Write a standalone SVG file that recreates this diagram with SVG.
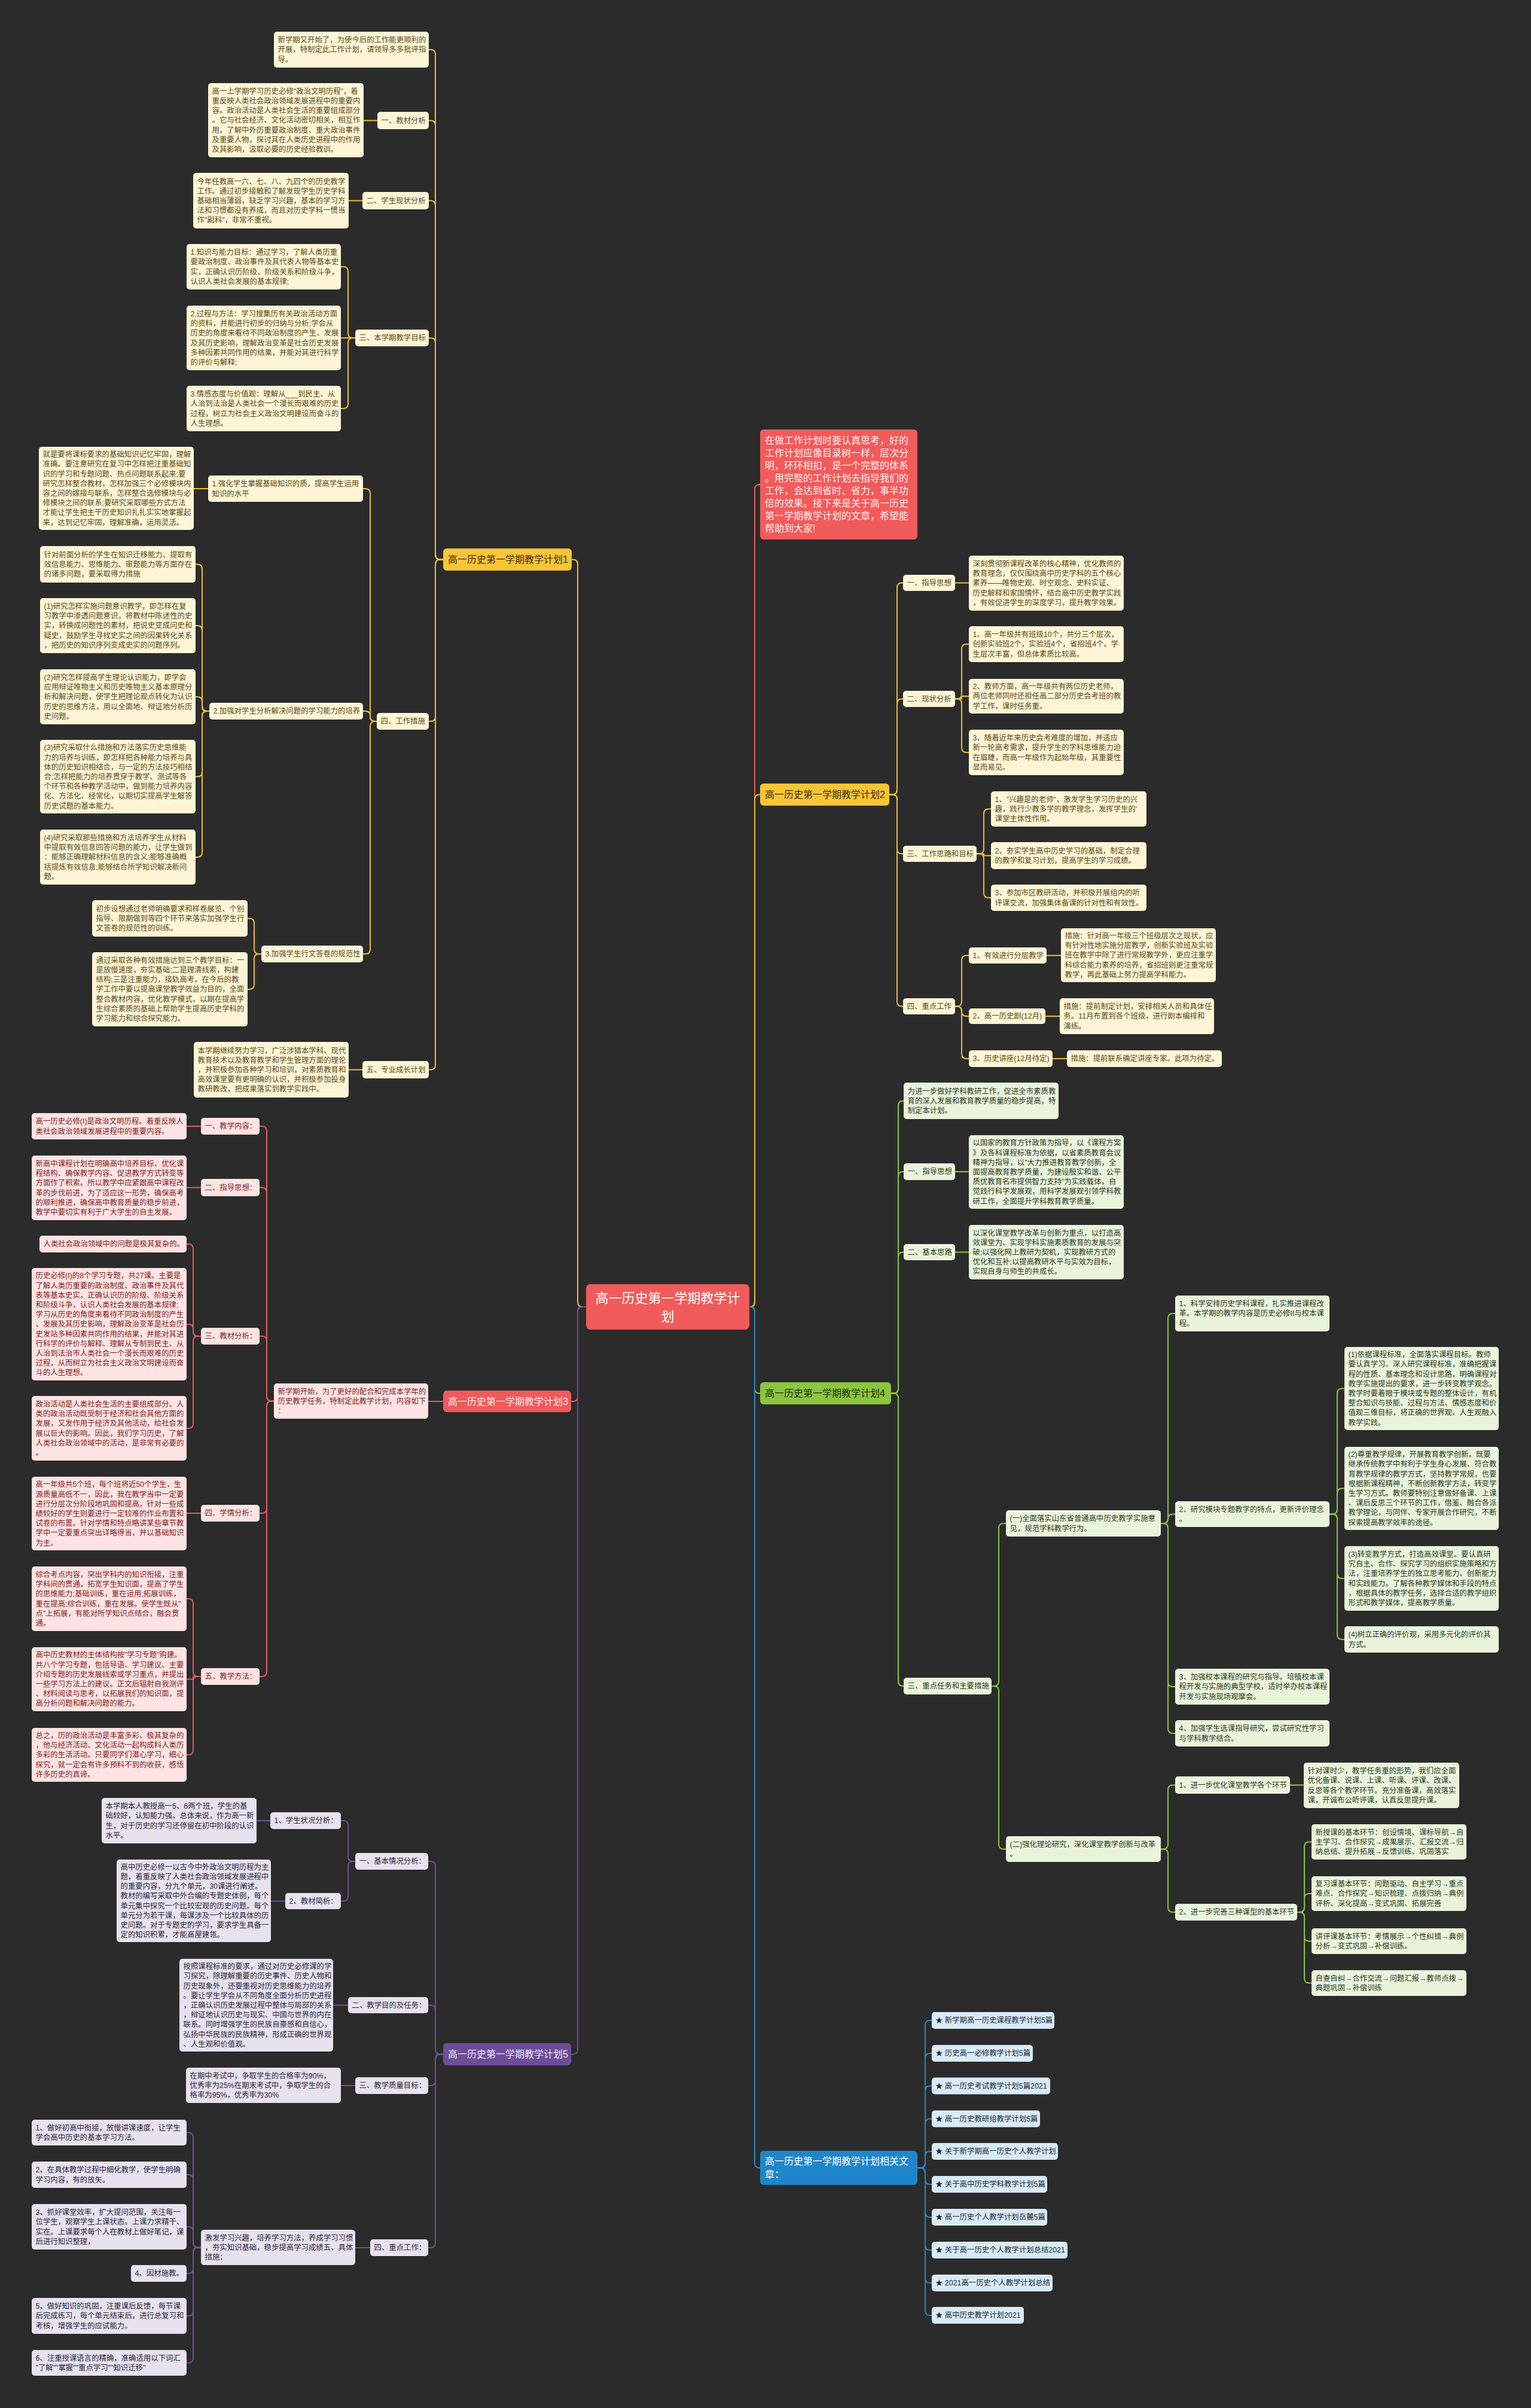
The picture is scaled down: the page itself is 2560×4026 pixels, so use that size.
<svg xmlns="http://www.w3.org/2000/svg" width="2560" height="4026" viewBox="0 0 2560 4026">
<style>
text{font-family:"Liberation Sans","Noto Sans CJK SC",sans-serif;}
.s{font-size:12.4px}
.m{font-size:16px}
.r{font-size:22px}
.ly rect{fill:#fdf5d6}.ly text{fill:#5a4916}
.lr rect{fill:#fde3e3}.lr text{fill:#7d1f1f}
.lp rect{fill:#e6e2ee}.lp text{fill:#2b2538}
.lg rect{fill:#e9f4db}.lg text{fill:#2b371f}
.lb rect{fill:#d8eaf6}.lb text{fill:#1b2834}
#connectors path{fill:none;stroke-width:2}
.cy{stroke:#efbf37}.cr{stroke:#e45a5a}.cp{stroke:#6b5296}.cg{stroke:#8cc540}.cb{stroke:#2a87c6}
</style>
<rect x="0" y="0" width="2560" height="4026" fill="#2b2b2b"/>

<g id="connectors">
<!-- yellow left -->
<path class="cy" d="M980 2185 H974 Q966 2185 966 2177 V943.5 Q966 935.5 958 935.5 H956"/>
<path class="cy" d="M741 935.5 H736 Q728 935.5 728 927.5 V91 Q728 83 720 83 H717"/>
<path class="cy" d="M741 935.5 H736 Q728 935.5 728 927.5 V209.5 Q728 201.5 720 201.5 H717"/>
<path class="cy" d="M741 935.5 H736 Q728 935.5 728 927.5 V343.5 Q728 335.5 720 335.5 H717"/>
<path class="cy" d="M741 935.5 H736 Q728 935.5 728 927.5 V573 Q728 565 720 565 H717"/>
<path class="cy" d="M741 935.5 H736 Q728 935.5 728 943.5 V1198 Q728 1206 720 1206 H717"/>
<path class="cy" d="M741 935.5 H736 Q728 935.5 728 943.5 V1780.5 Q728 1788.5 720 1788.5 H717"/>
<path class="cy" d="M631 201.5 H608"/>
<path class="cy" d="M606 335.5 H583"/>
<path class="cy" d="M594 565 H590 Q582 565 582 557 V454 Q582 446 574 446 H570"/>
<path class="cy" d="M594 565 H570"/>
<path class="cy" d="M594 565 H590 Q582 565 582 573 V675 Q582 683 574 683 H570"/>
<path class="cy" d="M630 1206 H627 Q619 1206 619 1198 V825 Q619 817 611 817 H607"/>
<path class="cy" d="M630 1206 H627 Q619 1206 619 1198 V1197 Q619 1189 611 1189 H607"/>
<path class="cy" d="M630 1206 H627 Q619 1206 619 1214 V1587 Q619 1595 611 1595 H607"/>
<path class="cy" d="M348 817 H324"/>
<path class="cy" d="M350 1189 H346 Q338 1189 338 1181 V951.5 Q338 943.5 330 943.5 H327"/>
<path class="cy" d="M350 1189 H346 Q338 1189 338 1181 V1054 Q338 1046 330 1046 H327"/>
<path class="cy" d="M350 1189 H346 Q338 1189 338 1181 V1173 Q338 1165 330 1165 H327"/>
<path class="cy" d="M350 1189 H346 Q338 1189 338 1197 V1290.5 Q338 1298.5 330 1298.5 H327"/>
<path class="cy" d="M350 1189 H346 Q338 1189 338 1197 V1425 Q338 1433 330 1433 H327"/>
<path class="cy" d="M437 1595 H433 Q425 1595 425 1587 V1543.5 Q425 1535.5 417 1535.5 H414"/>
<path class="cy" d="M437 1595 H433 Q425 1595 425 1603 V1646 Q425 1654 417 1654 H414"/>
<path class="cy" d="M606 1788.5 H583"/>
<!-- red -->
<path class="cr" d="M1253 2185 H1254 Q1262 2185 1262 2177 V818 Q1262 810 1270 810 H1271"/>
<path class="cr" d="M980 2185 H974 Q966 2185 966 2193 V2335 Q966 2343 958 2343 H955"/>
<path class="cr" d="M741 2343 H716"/>
<path class="cr" d="M458 2342.5 H454 Q446 2342.5 446 2334.5 V1891 Q446 1883 438 1883 H434"/>
<path class="cr" d="M458 2342.5 H454 Q446 2342.5 446 2334.5 V1993.5 Q446 1985.5 438 1985.5 H434"/>
<path class="cr" d="M458 2342.5 H454 Q446 2342.5 446 2334.5 V2242 Q446 2234 438 2234 H434"/>
<path class="cr" d="M458 2342.5 H454 Q446 2342.5 446 2350.5 V2522 Q446 2530 438 2530 H434"/>
<path class="cr" d="M458 2342.5 H454 Q446 2342.5 446 2350.5 V2795 Q446 2803 438 2803 H434"/>
<path class="cr" d="M336 1883 H312"/>
<path class="cr" d="M336 1985.5 H312"/>
<path class="cr" d="M336 2234 H331 Q323 2234 323 2226 V2088 Q323 2080 315 2080 H312"/>
<path class="cr" d="M336 2234 H331 Q323 2234 323 2226 V2222 Q323 2214 315 2214 H312"/>
<path class="cr" d="M336 2234 H331 Q323 2234 323 2242 V2380 Q323 2388 315 2388 H312"/>
<path class="cr" d="M336 2530 H312"/>
<path class="cr" d="M336 2803 H331 Q323 2803 323 2795 V2681 Q323 2673 315 2673 H312"/>
<path class="cr" d="M336 2803 H323 V2807.5 H312"/>
<path class="cr" d="M336 2803 H331 Q323 2803 323 2811 V2926 Q323 2934 315 2934 H312"/>
<!-- purple -->
<path class="cp" d="M980 2185 H974 Q966 2185 966 2193 V3426.5 Q966 3434.5 958 3434.5 H955"/>
<path class="cp" d="M741 3434.5 H736 Q728 3434.5 728 3426.5 V3120 Q728 3112 720 3112 H716"/>
<path class="cp" d="M741 3434.5 H736 Q728 3434.5 728 3426.5 V3360.5 Q728 3352.5 720 3352.5 H716"/>
<path class="cp" d="M741 3434.5 H736 Q728 3434.5 728 3442.5 V3479 Q728 3487 720 3487 H716"/>
<path class="cp" d="M741 3434.5 H736 Q728 3434.5 728 3442.5 V3750 Q728 3758 720 3758 H716"/>
<path class="cp" d="M594 3112 H590 Q582 3112 582 3104 V3052 Q582 3044 574 3044 H570"/>
<path class="cp" d="M594 3112 H590 Q582 3112 582 3120 V3170.5 Q582 3178.5 574 3178.5 H570"/>
<path class="cp" d="M452 3044 H429"/>
<path class="cp" d="M477 3178.5 H453"/>
<path class="cp" d="M582 3352.5 H557"/>
<path class="cp" d="M594 3487 H570"/>
<path class="cp" d="M619 3758 H594"/>
<path class="cp" d="M336 3757.5 H331 Q323 3757.5 323 3749.5 V3573.5 Q323 3565.5 315 3565.5 H312"/>
<path class="cp" d="M336 3757.5 H331 Q323 3757.5 323 3749.5 V3644 Q323 3636 315 3636 H312"/>
<path class="cp" d="M336 3757.5 H331 Q323 3757.5 323 3749.5 V3731 Q323 3723 315 3723 H312"/>
<path class="cp" d="M336 3757.5 H331 Q323 3757.5 323 3765.5 V3793 Q323 3801 315 3801 H312"/>
<path class="cp" d="M336 3757.5 H331 Q323 3757.5 323 3765.5 V3864 Q323 3872 315 3872 H312"/>
<path class="cp" d="M336 3757.5 H331 Q323 3757.5 323 3765.5 V3942.5 Q323 3950.5 315 3950.5 H312"/>
<!-- yellow right -->
<path class="cy" d="M1253 2185 H1254 Q1262 2185 1262 2177 V1336.5 Q1262 1328.5 1270 1328.5 H1271"/>
<path class="cy" d="M1487 1328.5 H1492 Q1500 1328.5 1500 1320.5 V982.5 Q1500 974.5 1508 974.5 H1510"/>
<path class="cy" d="M1487 1328.5 H1492 Q1500 1328.5 1500 1320.5 V1176.5 Q1500 1168.5 1508 1168.5 H1510"/>
<path class="cy" d="M1487 1328.5 H1492 Q1500 1328.5 1500 1336.5 V1419.5 Q1500 1427.5 1508 1427.5 H1510"/>
<path class="cy" d="M1487 1328.5 H1492 Q1500 1328.5 1500 1336.5 V1674.5 Q1500 1682.5 1508 1682.5 H1510"/>
<path class="cy" d="M1597 974.5 H1620"/>
<path class="cy" d="M1597 1168.5 H1600 Q1608 1168.5 1608 1160.5 V1085 Q1608 1077 1616 1077 H1620"/>
<path class="cy" d="M1597 1168.5 H1608 V1164 H1620"/>
<path class="cy" d="M1597 1168.5 H1600 Q1608 1168.5 1608 1176.5 V1250 Q1608 1258 1616 1258 H1620"/>
<path class="cy" d="M1633 1427.5 H1637 Q1645 1427.5 1645 1419.5 V1360.5 Q1645 1352.5 1653 1352.5 H1657"/>
<path class="cy" d="M1633 1427.5 H1645 V1430.5 H1657"/>
<path class="cy" d="M1633 1427.5 H1637 Q1645 1427.5 1645 1435.5 V1493 Q1645 1501 1653 1501 H1657"/>
<path class="cy" d="M1597 1682.5 H1600 Q1608 1682.5 1608 1674.5 V1605.5 Q1608 1597.5 1616 1597.5 H1620"/>
<path class="cy" d="M1597 1682.5 H1600 Q1608 1682.5 1608 1690.5 V1691 Q1608 1699 1616 1699 H1620"/>
<path class="cy" d="M1597 1682.5 H1600 Q1608 1682.5 1608 1690.5 V1762 Q1608 1770 1616 1770 H1620"/>
<path class="cy" d="M1750 1597.5 H1774"/>
<path class="cy" d="M1748 1699 H1772"/>
<path class="cy" d="M1760 1770 H1784"/>
<!-- green -->
<path class="cg" d="M1253 2185 H1254 Q1262 2185 1262 2193 V2321.5 Q1262 2329.5 1270 2329.5 H1271"/>
<path class="cg" d="M1490 2329.5 H1494 Q1502 2329.5 1502 2321.5 V1848.5 Q1502 1840.5 1510 1840.5 H1511"/>
<path class="cg" d="M1490 2329.5 H1494 Q1502 2329.5 1502 2321.5 V1967 Q1502 1959 1510 1959 H1511"/>
<path class="cg" d="M1490 2329.5 H1494 Q1502 2329.5 1502 2321.5 V2101.5 Q1502 2093.5 1510 2093.5 H1511"/>
<path class="cg" d="M1490 2329.5 H1494 Q1502 2329.5 1502 2337.5 V2811 Q1502 2819 1510 2819 H1511"/>
<path class="cg" d="M1597 1959 H1620"/>
<path class="cg" d="M1597 2093.5 H1620"/>
<path class="cg" d="M1658 2819 H1662 Q1670 2819 1670 2811 V2555 Q1670 2547 1678 2547 H1682"/>
<path class="cg" d="M1658 2819 H1662 Q1670 2819 1670 2827 V3083.5 Q1670 3091.5 1678 3091.5 H1682"/>
<path class="cg" d="M1941 2547 H1945 Q1953 2547 1953 2539 V2204 Q1953 2196 1961 2196 H1965"/>
<path class="cg" d="M1941 2547 H1945 Q1953 2547 1953 2539 V2539.5 Q1953 2531.5 1961 2531.5 H1965"/>
<path class="cg" d="M1941 2547 H1945 Q1953 2547 1953 2555 V2812 Q1953 2820 1961 2820 H1965"/>
<path class="cg" d="M1941 2547 H1945 Q1953 2547 1953 2555 V2890 Q1953 2898 1961 2898 H1965"/>
<path class="cg" d="M2223 2531.5 H2228 Q2236 2531.5 2236 2523.5 V2329.5 Q2236 2321.5 2244 2321.5 H2248"/>
<path class="cg" d="M2223 2531.5 H2228 Q2236 2531.5 2236 2523.5 V2496.5 Q2236 2488.5 2244 2488.5 H2248"/>
<path class="cg" d="M2223 2531.5 H2228 Q2236 2531.5 2236 2539.5 V2631 Q2236 2639 2244 2639 H2248"/>
<path class="cg" d="M2223 2531.5 H2228 Q2236 2531.5 2236 2539.5 V2733 Q2236 2741 2244 2741 H2248"/>
<path class="cg" d="M1941 3091.5 H1945 Q1953 3091.5 1953 3083.5 V2992.5 Q1953 2984.5 1961 2984.5 H1965"/>
<path class="cg" d="M1941 3091.5 H1945 Q1953 3091.5 1953 3099.5 V3189 Q1953 3197 1961 3197 H1965"/>
<path class="cg" d="M2157 2984.5 H2180"/>
<path class="cg" d="M2169 3197 H2173 Q2181 3197 2181 3189 V3087.5 Q2181 3079.5 2189 3079.5 H2193"/>
<path class="cg" d="M2169 3197 H2173 Q2181 3197 2181 3189 V3174 Q2181 3166 2189 3166 H2193"/>
<path class="cg" d="M2169 3197 H2173 Q2181 3197 2181 3205 V3237.5 Q2181 3245.5 2189 3245.5 H2193"/>
<path class="cg" d="M2169 3197 H2173 Q2181 3197 2181 3205 V3307.5 Q2181 3315.5 2189 3315.5 H2193"/>
<!-- blue -->
<path class="cb" d="M1253 2185 H1254 Q1262 2185 1262 2193 V3616.5 Q1262 3624.5 1270 3624.5 H1271"/>
<path class="cb" d="M1534 3624.5 H1539 Q1547 3624.5 1547 3616.5 V3386 Q1547 3378 1555 3378 H1558"/>
<path class="cb" d="M1534 3624.5 H1539 Q1547 3624.5 1547 3616.5 V3441 Q1547 3433 1555 3433 H1558"/>
<path class="cb" d="M1534 3624.5 H1539 Q1547 3624.5 1547 3616.5 V3495.5 Q1547 3487.5 1555 3487.5 H1558"/>
<path class="cb" d="M1534 3624.5 H1539 Q1547 3624.5 1547 3616.5 V3550.5 Q1547 3542.5 1555 3542.5 H1558"/>
<path class="cb" d="M1534 3624.5 H1539 Q1547 3624.5 1547 3616.5 V3605 Q1547 3597 1555 3597 H1558"/>
<path class="cb" d="M1534 3624.5 H1539 Q1547 3624.5 1547 3632.5 V3644 Q1547 3652 1555 3652 H1558"/>
<path class="cb" d="M1534 3624.5 H1539 Q1547 3624.5 1547 3632.5 V3699 Q1547 3707 1555 3707 H1558"/>
<path class="cb" d="M1534 3624.5 H1539 Q1547 3624.5 1547 3632.5 V3754 Q1547 3762 1555 3762 H1558"/>
<path class="cb" d="M1534 3624.5 H1539 Q1547 3624.5 1547 3632.5 V3809 Q1547 3817 1555 3817 H1558"/>
<path class="cb" d="M1534 3624.5 H1539 Q1547 3624.5 1547 3632.5 V3863 Q1547 3871 1555 3871 H1558"/>
</g>

<!-- ROOT -->
<g id="root">
<rect x="980" y="2147" width="273" height="76" rx="7" fill="#f15b5b"/>
<text class="r" x="1116.5" y="2177.7" text-anchor="middle" fill="#ffffff"><tspan x="1116.5">高一历史第一学期教学计</tspan><tspan x="1116.5" dy="31">划</tspan></text>
</g>

<!-- BRANCH 1 -->
<g id="b1"><rect x="741" y="917" width="215" height="37" rx="6" fill="#f8c538"/><text class="m" x="749" y="941.1" fill="#3b2f0b">高一历史第一学期教学计划1</text></g>
<g class="ly">
<g id="b1-intro"><rect x="458" y="53" width="259" height="60" rx="5"/><text class="s" x="464.5" y="71.2"><tspan x="464.5">新学期又开始了，为使今后的工作能更顺利的</tspan><tspan x="464.5" dy="16.2">开展，特制定此工作计划，请领导多多批评指</tspan><tspan x="464.5" dy="16.2">导。</tspan></text></g>
<g id="b1-1"><rect x="631" y="187" width="86" height="29" rx="5"/><text class="s" x="637.5" y="205.9">一、教材分析</text></g>
<g id="b1-1a"><rect x="348" y="139" width="260" height="124" rx="5"/><text class="s" x="354.5" y="156.8"><tspan x="354.5">高一上学期学习历史必修"政治文明历程"，着</tspan><tspan x="354.5" dy="16.2">重反映人类社会政治领域发展进程中的重要内</tspan><tspan x="354.5" dy="16.2">容。政治活动是人类社会生活的重要组成部分</tspan><tspan x="354.5" dy="16.2">。它与社会经济、文化活动密切相关，相互作</tspan><tspan x="354.5" dy="16.2">用。了解中外历重要政治制度、重大政治事件</tspan><tspan x="354.5" dy="16.2">及重要人物，探讨其在人类历史进程中的作用</tspan><tspan x="354.5" dy="16.2">及其影响，汲取必要的历史经验教训。</tspan></text></g>
<g id="b1-2"><rect x="606" y="321" width="111" height="29" rx="5"/><text class="s" x="612.5" y="339.9">二、学生现状分析</text></g>
<g id="b1-2a"><rect x="323" y="289" width="260" height="93" rx="5"/><text class="s" x="329.5" y="307.5"><tspan x="329.5">今年任教高一六、七、八、九四个的历史教学</tspan><tspan x="329.5" dy="16.2">工作。通过初步接触和了解发现学生历史学科</tspan><tspan x="329.5" dy="16.2">基础相当薄弱，缺乏学习兴趣，基本的学习方</tspan><tspan x="329.5" dy="16.2">法和习惯都没有养成，而且对历史学科一惯当</tspan><tspan x="329.5" dy="16.2">作"副科"，非常不重视。</tspan></text></g>
<g id="b1-3"><rect x="594" y="551" width="123" height="28" rx="5"/><text class="s" x="600.5" y="569.4">三、本学期教学目标</text></g>
<g id="b1-3a"><rect x="312" y="408" width="258" height="76" rx="5"/><text class="s" x="318.5" y="426.1"><tspan x="318.5">1.知识与能力目标：通过学习，了解人类历重</tspan><tspan x="318.5" dy="16.2">要政治制度、政治事件及其代表人物等基本史</tspan><tspan x="318.5" dy="16.2">实，正确认识历阶级、阶级关系和阶级斗争，</tspan><tspan x="318.5" dy="16.2">认识人类社会发展的基本规律;</tspan></text></g>
<g id="b1-3b"><rect x="312" y="511" width="258" height="108" rx="5"/><text class="s" x="318.5" y="528.9"><tspan x="318.5">2.过程与方法：学习搜集历有关政治活动方面</tspan><tspan x="318.5" dy="16.2">的资料，并能进行初步的归纳与分析;学会从</tspan><tspan x="318.5" dy="16.2">历史的角度来看待不同政治制度的产生、发展</tspan><tspan x="318.5" dy="16.2">及其历史影响，理解政治变革是社会历史发展</tspan><tspan x="318.5" dy="16.2">多种因素共同作用的结果，并能对其进行科学</tspan><tspan x="318.5" dy="16.2">的评价与解释;</tspan></text></g>
<g id="b1-3c"><rect x="312" y="645" width="258" height="76" rx="5"/><text class="s" x="318.5" y="663.1"><tspan x="318.5">3.情感态度与价值观：理解从___到民主、从</tspan><tspan x="318.5" dy="16.2">人治到法治是人类社会一个漫长而艰难的历史</tspan><tspan x="318.5" dy="16.2">过程，树立为社会主义政治文明建设而奋斗的</tspan><tspan x="318.5" dy="16.2">人生理想。</tspan></text></g>
<g id="b1-4"><rect x="630" y="1192" width="87" height="28" rx="5"/><text class="s" x="636.5" y="1210.4">四、工作措施</text></g>
<g id="b1-4-1"><rect x="348" y="795" width="259" height="44" rx="5"/><text class="s" x="354.5" y="813.3"><tspan x="354.5">1.强化学生掌握基础知识的质，提高学生运用</tspan><tspan x="354.5" dy="16.2">知识的水平</tspan></text></g>
<g id="b1-4-1a"><rect x="65" y="747" width="259" height="139" rx="5"/><text class="s" x="71.5" y="764.2"><tspan x="71.5">就是要将课标要求的基础知识记忆牢固，理解</tspan><tspan x="71.5" dy="16.2">准确。要注意研究在复习中怎样把注重基础知</tspan><tspan x="71.5" dy="16.2">识的学习和专题问题、热点问题联系起来;要</tspan><tspan x="71.5" dy="16.2">研究怎样整合教材，怎样加强三个必修模块内</tspan><tspan x="71.5" dy="16.2">容之间的嫁接与联系，怎样整合选修模块与必</tspan><tspan x="71.5" dy="16.2">修模块之间的联系;要研究采取哪些方式方法</tspan><tspan x="71.5" dy="16.2">才能让学生把主干历史知识扎扎实实地掌握起</tspan><tspan x="71.5" dy="16.2">来，达到记忆牢固，理解准确，运用灵活。</tspan></text></g>
<g id="b1-4-2"><rect x="350" y="1175" width="257" height="28" rx="5"/><text class="s" x="356.5" y="1193.4">2.加强对学生分析解决问题的学习能力的培养</text></g>
<g id="b1-4-2a"><rect x="67" y="913" width="260" height="61" rx="5"/><text class="s" x="73.5" y="931.7"><tspan x="73.5">针对前面分析的学生在知识迁移能力、提取有</tspan><tspan x="73.5" dy="16.2">效信息能力、思维能力、审题能力等方面存在</tspan><tspan x="73.5" dy="16.2">的诸多问题，要采取得力措施</tspan></text></g>
<g id="b1-4-2b"><rect x="67" y="1000" width="260" height="92" rx="5"/><text class="s" x="73.5" y="1018"><tspan x="73.5">(1)研究怎样实施问题意识教学，即怎样在复</tspan><tspan x="73.5" dy="16.2">习教学中渗透问题意识，将教材中陈述性的史</tspan><tspan x="73.5" dy="16.2">实，转换成问题性的素材，把说史变成问史和</tspan><tspan x="73.5" dy="16.2">疑史，鼓励学生寻找史实之间的因果转化关系</tspan><tspan x="73.5" dy="16.2">，把历史的知识序列变成史实的问题序列。</tspan></text></g>
<g id="b1-4-2c"><rect x="67" y="1119" width="260" height="92" rx="5"/><text class="s" x="73.5" y="1137"><tspan x="73.5">(2)研究怎样提高学生理论认识能力，即学会</tspan><tspan x="73.5" dy="16.2">应用辩证唯物主义和历史唯物主义基本原理分</tspan><tspan x="73.5" dy="16.2">析和解决问题，使学生把理论观点转化为认识</tspan><tspan x="73.5" dy="16.2">历史的思维方法，用以全面地、辩证地分析历</tspan><tspan x="73.5" dy="16.2">史问题。</tspan></text></g>
<g id="b1-4-2d"><rect x="67" y="1237" width="260" height="123" rx="5"/><text class="s" x="73.5" y="1254.3"><tspan x="73.5">(3)研究采取什么措施和方法落实历史思维能</tspan><tspan x="73.5" dy="16.2">力的培养与训练，即怎样把各种能力培养与具</tspan><tspan x="73.5" dy="16.2">体的历史知识相结合，与一定的方法技巧相结</tspan><tspan x="73.5" dy="16.2">合;怎样把能力的培养贯穿于教学、测试等各</tspan><tspan x="73.5" dy="16.2">个环节和各种教学活动中，做到能力培养内容</tspan><tspan x="73.5" dy="16.2">化、方法化、经常化，以期切实提高学生解答</tspan><tspan x="73.5" dy="16.2">历史试题的基本能力。</tspan></text></g>
<g id="b1-4-2e"><rect x="67" y="1387" width="260" height="92" rx="5"/><text class="s" x="73.5" y="1405"><tspan x="73.5">(4)研究采取那些措施和方法培养学生从材料</tspan><tspan x="73.5" dy="16.2">中提取有效信息回答问题的能力，让学生做到</tspan><tspan x="73.5" dy="16.2">：能够正确理解材料信息的含义;能够准确概</tspan><tspan x="73.5" dy="16.2">括提炼有效信息;能够结合所学知识解决新问</tspan><tspan x="73.5" dy="16.2">题。</tspan></text></g>
<g id="b1-4-3"><rect x="437" y="1581" width="170" height="28" rx="5"/><text class="s" x="443.5" y="1599.4">3.加强学生行文答卷的规范性</text></g>
<g id="b1-4-3a"><rect x="154" y="1505" width="260" height="61" rx="5"/><text class="s" x="160.5" y="1523.7"><tspan x="160.5">初步设想通过老师明确要求和样卷展览、个别</tspan><tspan x="160.5" dy="16.2">指导、限期做到等四个环节来落实加强学生行</tspan><tspan x="160.5" dy="16.2">文答卷的规范性的训练。</tspan></text></g>
<g id="b1-4-3b"><rect x="154" y="1592" width="260" height="124" rx="5"/><text class="s" x="160.5" y="1609.8"><tspan x="160.5">通过采取各种有效措施达到三个教学目标：一</tspan><tspan x="160.5" dy="16.2">是放慢速度，夯实基础;二是理清线索，构建</tspan><tspan x="160.5" dy="16.2">结构;三是注重能力，接轨高考。在今后的教</tspan><tspan x="160.5" dy="16.2">学工作中要以提高课堂教学效益为目的，全面</tspan><tspan x="160.5" dy="16.2">整合教材内容，优化教学模式，以期在提高学</tspan><tspan x="160.5" dy="16.2">生综合素质的基础上帮助学生提高历史学科的</tspan><tspan x="160.5" dy="16.2">学习能力和综合探究能力。</tspan></text></g>
<g id="b1-5"><rect x="606" y="1774" width="111" height="29" rx="5"/><text class="s" x="612.5" y="1792.9">五、专业成长计划</text></g>
<g id="b1-5a"><rect x="324" y="1742" width="259" height="93" rx="5"/><text class="s" x="330.5" y="1760.5"><tspan x="330.5">本学期继续努力学习，广泛涉猎本学科、现代</tspan><tspan x="330.5" dy="16.2">教育技术以及教育教学和学生管理方面的理论</tspan><tspan x="330.5" dy="16.2">，并积极参加各种学习和培训，对素质教育和</tspan><tspan x="330.5" dy="16.2">高效课堂要有更明确的认识，并积极参加投身</tspan><tspan x="330.5" dy="16.2">教研教改，把成果落实到教学实践中。</tspan></text></g>
</g>

<!-- BRANCH 3 -->
<g id="b3"><rect x="741" y="2325" width="214" height="36" rx="6" fill="#f05a5a"/><text class="m" x="749" y="2348.6" fill="#ffeaea">高一历史第一学期教学计划3</text></g>
<g class="lr">
<g id="b3-0"><rect x="458" y="2313" width="258" height="59" rx="5"/><text class="s" x="464.5" y="2330.7"><tspan x="464.5">新学期开始，为了更好的配合和完成本学年的</tspan><tspan x="464.5" dy="16.2">历史教学任务，特制定此教学计划，内容如下</tspan><tspan x="464.5" dy="16.2">：</tspan></text></g>
<g id="b3-1"><rect x="336" y="1869" width="98" height="28" rx="5"/><text class="s" x="342.5" y="1887.4">一、教学内容：</text></g>
<g id="b3-1a"><rect x="53" y="1861" width="259" height="44" rx="5"/><text class="s" x="59.5" y="1879.3"><tspan x="59.5">高一历史必修(I)是政治文明历程。着重反映人</tspan><tspan x="59.5" dy="16.2">类社会政治领域发展进程中的重要内容。</tspan></text></g>
<g id="b3-2"><rect x="336" y="1971" width="98" height="29" rx="5"/><text class="s" x="342.5" y="1989.9">二、指导思想：</text></g>
<g id="b3-2a"><rect x="53" y="1932" width="259" height="108" rx="5"/><text class="s" x="59.5" y="1949.9"><tspan x="59.5">新高中课程计划在明确高中培养目标、优化课</tspan><tspan x="59.5" dy="16.2">程结构、确保教学内容、促进教学方式转变等</tspan><tspan x="59.5" dy="16.2">方面作了积索。所以教学中应紧跟高中课程改</tspan><tspan x="59.5" dy="16.2">革的步伐前进，为了适应这一形势，确保高考</tspan><tspan x="59.5" dy="16.2">的顺利推进，确保高中教育质量的稳步前进，</tspan><tspan x="59.5" dy="16.2">教学中要切实有利于广大学生的自主发展。</tspan></text></g>
<g id="b3-3"><rect x="336" y="2220" width="98" height="28" rx="5"/><text class="s" x="342.5" y="2238.4">三、教材分析：</text></g>
<g id="b3-3a"><rect x="66" y="2066" width="246" height="28" rx="5"/><text class="s" x="72.5" y="2084.4">人类社会政治领域中的问题是极其复杂的。</text></g>
<g id="b3-3b"><rect x="53" y="2120" width="259" height="188" rx="5"/><text class="s" x="59.5" y="2137.4"><tspan x="59.5">历史必修(I)的8个学习专题，共27课。主要是</tspan><tspan x="59.5" dy="16.2">了解人类历重要的政治制度、政治事件及其代</tspan><tspan x="59.5" dy="16.2">表等基本史实，正确认识历的阶级、阶级关系</tspan><tspan x="59.5" dy="16.2">和阶级斗争，认识人类社会发展的基本规律;</tspan><tspan x="59.5" dy="16.2">学习从历史的角度来看待不同政治制度的产生</tspan><tspan x="59.5" dy="16.2">、发展及其历史影响，理解政治变革是社会历</tspan><tspan x="59.5" dy="16.2">史发站多种因素共同作用的结果，并能对其进</tspan><tspan x="59.5" dy="16.2">行科学的评价与解释、理解从专制到民主、从</tspan><tspan x="59.5" dy="16.2">人治到法治市人类社会一个漫长而艰难的历史</tspan><tspan x="59.5" dy="16.2">过程，从而树立为社会主义政治文明建设而奋</tspan><tspan x="59.5" dy="16.2">斗的人生理想。</tspan></text></g>
<g id="b3-3c"><rect x="53" y="2334" width="259" height="108" rx="5"/><text class="s" x="59.5" y="2351.9"><tspan x="59.5">政治活动是人类社会生活的主要组成部分。人</tspan><tspan x="59.5" dy="16.2">类的政治活动既受制于经济和社会其他方面的</tspan><tspan x="59.5" dy="16.2">发展，又发作用于经济及其他活动，给社会发</tspan><tspan x="59.5" dy="16.2">展以巨大的影响。因此，我们学习历史，了解</tspan><tspan x="59.5" dy="16.2">人类社会政治领域中的活动，是非常有必要的</tspan><tspan x="59.5" dy="16.2">。</tspan></text></g>
<g id="b3-4"><rect x="336" y="2516" width="98" height="28" rx="5"/><text class="s" x="342.5" y="2534.4">四、学情分析：</text></g>
<g id="b3-4a"><rect x="53" y="2469" width="259" height="123" rx="5"/><text class="s" x="59.5" y="2486.3"><tspan x="59.5">高一年级共5个班，每个班将近50个学生，生</tspan><tspan x="59.5" dy="16.2">源质量高低不一，因此，我在教学当中一定要</tspan><tspan x="59.5" dy="16.2">进行分层次分阶段地巩固和提高。针对一些成</tspan><tspan x="59.5" dy="16.2">绩较好的学生则要进行一定较难的作业布置和</tspan><tspan x="59.5" dy="16.2">试卷的布置。针对学情和特点略讲某些章节教</tspan><tspan x="59.5" dy="16.2">学中一定要重点突出详略得当，并以基础知识</tspan><tspan x="59.5" dy="16.2">为主。</tspan></text></g>
<g id="b3-5"><rect x="336" y="2789" width="98" height="28" rx="5"/><text class="s" x="342.5" y="2807.4">五、教学方法：</text></g>
<g id="b3-5a"><rect x="53" y="2619" width="259" height="108" rx="5"/><text class="s" x="59.5" y="2636.9"><tspan x="59.5">综合考点内容，突出学科内的知识衔接，注重</tspan><tspan x="59.5" dy="16.2">学科间的贯通，拓宽学生知识面，提高了学生</tspan><tspan x="59.5" dy="16.2">的思维能力;基础训练，重在运用;拓展训练，</tspan><tspan x="59.5" dy="16.2">重在提高;综合训练，重在发展。使学生既从"</tspan><tspan x="59.5" dy="16.2">点"上拓展，有能对所学知识点结合，融会贯</tspan><tspan x="59.5" dy="16.2">通。</tspan></text></g>
<g id="b3-5b"><rect x="53" y="2754" width="259" height="107" rx="5"/><text class="s" x="59.5" y="2771.4"><tspan x="59.5">高中历史教材的主体结构按"学习专题"购建。</tspan><tspan x="59.5" dy="16.2">共八个学习专题，包括导语、学习建议、主要</tspan><tspan x="59.5" dy="16.2">介绍专题的历史发展线索或学习重点，并提出</tspan><tspan x="59.5" dy="16.2">一些学习方法上的建议。正文后辐射自我测评</tspan><tspan x="59.5" dy="16.2">、材料阅读与思考，以拓展我们的知识面，提</tspan><tspan x="59.5" dy="16.2">高分析问题和解决问题的能力。</tspan></text></g>
<g id="b3-5c"><rect x="53" y="2889" width="259" height="90" rx="5"/><text class="s" x="59.5" y="2906"><tspan x="59.5">总之，历的政治活动是丰富多彩、极其复杂的</tspan><tspan x="59.5" dy="16.2">，他与经济活动、文化活动一起构成料人类历</tspan><tspan x="59.5" dy="16.2">多彩的生活活动。只要同学们潜心学习，细心</tspan><tspan x="59.5" dy="16.2">探究，就一定会有许多预料不到的收获，感悟</tspan><tspan x="59.5" dy="16.2">许多历史的真谛。</tspan></text></g>
</g>

<!-- BRANCH 5 -->
<g id="b5"><rect x="741" y="3416" width="214" height="37" rx="6" fill="#6d4d97"/><text class="m" x="749" y="3440.1" fill="#efe6ff">高一历史第一学期教学计划5</text></g>
<g class="lp">
<g id="b5-1"><rect x="594" y="3098" width="122" height="28" rx="5"/><text class="s" x="600.5" y="3116.4">一、基本情况分析：</text></g>
<g id="b5-1-1"><rect x="452" y="3030" width="118" height="28" rx="5"/><text class="s" x="458.5" y="3048.4">1、学生状况分析：</text></g>
<g id="b5-1-1a"><rect x="170" y="3006" width="259" height="76" rx="5"/><text class="s" x="176.5" y="3024.1"><tspan x="176.5">本学期本人教授高一5、6两个班，学生的基</tspan><tspan x="176.5" dy="16.2">础较好，认知能力强。总体来说，作为高一新</tspan><tspan x="176.5" dy="16.2">生，对于历史的学习还停留在初中阶段的认识</tspan><tspan x="176.5" dy="16.2">水平。</tspan></text></g>
<g id="b5-1-2"><rect x="477" y="3165" width="93" height="27" rx="5"/><text class="s" x="483.5" y="3182.9">2、教材简析：</text></g>
<g id="b5-1-2a"><rect x="195" y="3109" width="258" height="138" rx="5"/><text class="s" x="201.5" y="3125.7"><tspan x="201.5">高中历史必修一以古今中外政治文明历程为主</tspan><tspan x="201.5" dy="16.2">题，着重反映了人类社会政治领域发展进程中</tspan><tspan x="201.5" dy="16.2">的重要内容，分九个单元，30课进行阐述。</tspan><tspan x="201.5" dy="16.2">教材的编写采取中外合编的专题史体例，每个</tspan><tspan x="201.5" dy="16.2">单元集中探究一个比较宏观的历史问题。每个</tspan><tspan x="201.5" dy="16.2">单元分为若干课，每课涉及一个比较具体的历</tspan><tspan x="201.5" dy="16.2">史问题。对于专题史的学习，要求学生具备一</tspan><tspan x="201.5" dy="16.2">定的知识积累，才能高屋建瓴。</tspan></text></g>
<g id="b5-2"><rect x="582" y="3339" width="134" height="27" rx="5"/><text class="s" x="588.5" y="3356.9">二、教学目的及任务：</text></g>
<g id="b5-2a"><rect x="300" y="3275" width="257" height="155" rx="5"/><text class="s" x="306.5" y="3292.1"><tspan x="306.5">按照课程标准的要求，通过对历史必修课的学</tspan><tspan x="306.5" dy="16.2">习探究，除理解重要的历史事件、历史人物和</tspan><tspan x="306.5" dy="16.2">历史现象外，还要重视对历史思维能力的培养</tspan><tspan x="306.5" dy="16.2">。要让学生学会从不同角度全面分析历史进程</tspan><tspan x="306.5" dy="16.2">，正确认识历史发展过程中整体与局部的关系</tspan><tspan x="306.5" dy="16.2">，辩证地认识历史与现实、中国与世界的内在</tspan><tspan x="306.5" dy="16.2">联系。同时增强学生的民族自豪感和自信心，</tspan><tspan x="306.5" dy="16.2">弘扬中华民族的民族精神，形成正确的世界观</tspan><tspan x="306.5" dy="16.2">、人生观和价值观。</tspan></text></g>
<g id="b5-3"><rect x="594" y="3473" width="122" height="28" rx="5"/><text class="s" x="600.5" y="3491.4">三、教学质量目标：</text></g>
<g id="b5-3a"><rect x="311" y="3457" width="259" height="59" rx="5"/><text class="s" x="317.5" y="3474.7"><tspan x="317.5">在期中考试中，争取学生的合格率为90%，</tspan><tspan x="317.5" dy="16.2">优秀率为25%在期末考试中，争取学生的合</tspan><tspan x="317.5" dy="16.2">格率为95%，优秀率为30%</tspan></text></g>
<g id="b5-4"><rect x="619" y="3744" width="97" height="28" rx="5"/><text class="s" x="625.5" y="3762.4">四、重点工作：</text></g>
<g id="b5-4a"><rect x="336" y="3728" width="258" height="59" rx="5"/><text class="s" x="342.5" y="3745.7"><tspan x="342.5">激发学习兴趣，培养学习方法，养成学习习惯</tspan><tspan x="342.5" dy="16.2">，夯实知识基础，稳步提高学习成绩五、具体</tspan><tspan x="342.5" dy="16.2">措施：</tspan></text></g>
<g id="b5-4a1"><rect x="53" y="3544" width="259" height="43" rx="5"/><text class="s" x="59.5" y="3561.8"><tspan x="59.5">1、做好初高中衔接，放慢讲课速度，让学生</tspan><tspan x="59.5" dy="16.2">学会高中历史的基本学习方法。</tspan></text></g>
<g id="b5-4a2"><rect x="53" y="3614" width="259" height="44" rx="5"/><text class="s" x="59.5" y="3632.3"><tspan x="59.5">2、在具体教学过程中细化教学，使学生明确</tspan><tspan x="59.5" dy="16.2">学习内容，有的放矢。</tspan></text></g>
<g id="b5-4a3"><rect x="53" y="3685" width="259" height="76" rx="5"/><text class="s" x="59.5" y="3703.1"><tspan x="59.5">3、抓好课堂效率，扩大提问范围，关注每一</tspan><tspan x="59.5" dy="16.2">位学生，观察学生上课状态。上课力求精干、</tspan><tspan x="59.5" dy="16.2">实在。上课要求每个人在教材上做好笔记，课</tspan><tspan x="59.5" dy="16.2">后进行知识整理，</tspan></text></g>
<g id="b5-4a4"><rect x="219" y="3787" width="93" height="28" rx="5"/><text class="s" x="225.5" y="3805.4">4、因材施教。</text></g>
<g id="b5-4a5"><rect x="53" y="3842" width="259" height="60" rx="5"/><text class="s" x="59.5" y="3860.2"><tspan x="59.5">5、做好知识的巩固，注重课后反馈，每节课</tspan><tspan x="59.5" dy="16.2">后完成练习，每个单元结束后，进行总复习和</tspan><tspan x="59.5" dy="16.2">考核，增强学生的应试能力。</tspan></text></g>
<g id="b5-4a6"><rect x="53" y="3929" width="259" height="43" rx="5"/><text class="s" x="59.5" y="3946.8"><tspan x="59.5">6、注重授课语言的精确，准确适用以下词汇</tspan><tspan x="59.5" dy="16.2">"了解""掌握""重点学习""知识迁移"</tspan></text></g>
</g>

<!-- INTRO -->
<g id="intro"><rect x="1271" y="718" width="263" height="184" rx="6" fill="#f15b5b"/><text class="m" x="1279" y="742.1" fill="#ffeeee"><tspan x="1279">在做工作计划时要认真思考，好的</tspan><tspan x="1279" dy="21">工作计划应像目录树一样，层次分</tspan><tspan x="1279" dy="21">明，环环相扣，是一个完整的体系</tspan><tspan x="1279" dy="21">。用完整的工作计划去指导我们的</tspan><tspan x="1279" dy="21">工作，会达到省时、省力，事半功</tspan><tspan x="1279" dy="21">倍的效果。接下来是关于高一历史</tspan><tspan x="1279" dy="21">第一学期教学计划的文章，希望能</tspan><tspan x="1279" dy="21">帮助到大家!</tspan></text></g>

<!-- BRANCH 2 -->
<g id="b2"><rect x="1271" y="1310" width="216" height="37" rx="6" fill="#f8c538"/><text class="m" x="1279" y="1334.1" fill="#3b2f0b">高一历史第一学期教学计划2</text></g>
<g class="ly">
<g id="b2-1"><rect x="1510" y="961" width="87" height="27" rx="5"/><text class="s" x="1516.5" y="978.9">一、指导思想</text></g>
<g id="b2-1a"><rect x="1620" y="929" width="259" height="92" rx="5"/><text class="s" x="1626.5" y="947"><tspan x="1626.5">深刻贯彻新课程改革的核心精神，优化教师的</tspan><tspan x="1626.5" dy="16.2">教育理念，仅仅围绕高中历史学科的五个核心</tspan><tspan x="1626.5" dy="16.2">素养——唯物史观、时空观念、史料实证、</tspan><tspan x="1626.5" dy="16.2">历史解释和家国情怀，结合高中历史教学实践</tspan><tspan x="1626.5" dy="16.2">，有效促进学生的深度学习，提升教学效果。</tspan></text></g>
<g id="b2-2"><rect x="1510" y="1155" width="87" height="27" rx="5"/><text class="s" x="1516.5" y="1172.9">二、现状分析</text></g>
<g id="b2-2a"><rect x="1620" y="1047" width="259" height="60" rx="5"/><text class="s" x="1626.5" y="1065.2"><tspan x="1626.5">1、高一年级共有班级10个，共分三个层次，</tspan><tspan x="1626.5" dy="16.2">创新实验班2个，实验班4个，省招班4个。学</tspan><tspan x="1626.5" dy="16.2">生层次丰富，但总体素质比较高。</tspan></text></g>
<g id="b2-2b"><rect x="1620" y="1135" width="259" height="58" rx="5"/><text class="s" x="1626.5" y="1152.2"><tspan x="1626.5">2、教师方面，高一年级共有两位历史老师，</tspan><tspan x="1626.5" dy="16.2">两位老师同时还担任高二部分历史会考班的教</tspan><tspan x="1626.5" dy="16.2">学工作，课时任务重。</tspan></text></g>
<g id="b2-2c"><rect x="1620" y="1220" width="259" height="76" rx="5"/><text class="s" x="1626.5" y="1238.1"><tspan x="1626.5">3、随着近年来历史会考难度的增加，并适应</tspan><tspan x="1626.5" dy="16.2">新一轮高考需求，提升学生的学科思维能力迫</tspan><tspan x="1626.5" dy="16.2">在眉睫，而高一年级作为起始年级，其重要性</tspan><tspan x="1626.5" dy="16.2">显而易见。</tspan></text></g>
<g id="b2-3"><rect x="1510" y="1414" width="123" height="27" rx="5"/><text class="s" x="1516.5" y="1431.9">三、工作思路和目标</text></g>
<g id="b2-3a"><rect x="1657" y="1323" width="260" height="59" rx="5"/><text class="s" x="1663.5" y="1340.7"><tspan x="1663.5">1、"兴趣是的老师"，激发学生学习历史的兴</tspan><tspan x="1663.5" dy="16.2">趣，践行少教多学的教学理念，发挥学生的'</tspan><tspan x="1663.5" dy="16.2">课堂主体性作用。</tspan></text></g>
<g id="b2-3b"><rect x="1657" y="1408" width="260" height="45" rx="5"/><text class="s" x="1663.5" y="1426.8"><tspan x="1663.5">2、夯实学生高中历史学习的基础，制定合理</tspan><tspan x="1663.5" dy="16.2">的教学和复习计划，提高学生的学习成绩。</tspan></text></g>
<g id="b2-3c"><rect x="1657" y="1479" width="260" height="44" rx="5"/><text class="s" x="1663.5" y="1497.3"><tspan x="1663.5">3、参加市区教研活动，并积极开展组内的听</tspan><tspan x="1663.5" dy="16.2">评课交流，加强集体备课的针对性和有效性。</tspan></text></g>
<g id="b2-4"><rect x="1510" y="1669" width="87" height="27" rx="5"/><text class="s" x="1516.5" y="1686.9">四、重点工作</text></g>
<g id="b2-4-1"><rect x="1620" y="1584" width="130" height="27" rx="5"/><text class="s" x="1626.5" y="1601.9">1、有效进行分层教学</text></g>
<g id="b2-4-1a"><rect x="1774" y="1552" width="259" height="90" rx="5"/><text class="s" x="1780.5" y="1569"><tspan x="1780.5">措施：针对高一年级三个班级层次之现状，应</tspan><tspan x="1780.5" dy="16.2">有针对性地实施分层教学，创新实验班及实验</tspan><tspan x="1780.5" dy="16.2">班在教学中除了进行常规教学外，更应注重学</tspan><tspan x="1780.5" dy="16.2">科综合能力素养的培养，省招班则更注重常规</tspan><tspan x="1780.5" dy="16.2">教学，再此基础上努力提高学科能力。</tspan></text></g>
<g id="b2-4-2"><rect x="1620" y="1686" width="128" height="26" rx="5"/><text class="s" x="1626.5" y="1703.4">2、高一历史剧(12月)</text></g>
<g id="b2-4-2a"><rect x="1772" y="1669" width="258" height="60" rx="5"/><text class="s" x="1778.5" y="1687.2"><tspan x="1778.5">措施：提前制定计划，安排相关人员和具体任</tspan><tspan x="1778.5" dy="16.2">务。11月布置到各个班级，进行剧本编排和</tspan><tspan x="1778.5" dy="16.2">演练。</tspan></text></g>
<g id="b2-4-3"><rect x="1620" y="1756" width="140" height="28" rx="5"/><text class="s" x="1626.5" y="1774.4">3、历史讲座(12月待定)</text></g>
<g id="b2-4-3a"><rect x="1784" y="1756" width="259" height="28" rx="5"/><text class="s" x="1790.5" y="1774.4">措施：提前联系确定讲座专家。此项为待定。</text></g>
</g>

<!-- BRANCH 4 -->
<g id="b4"><rect x="1271" y="2311" width="219" height="37" rx="6" fill="#8cc540"/><text class="m" x="1279" y="2335.1" fill="#1f2e0a">高一历史第一学期教学计划4</text></g>
<g class="lg">
<g id="b4-0"><rect x="1511" y="1810" width="259" height="61" rx="5"/><text class="s" x="1517.5" y="1828.7"><tspan x="1517.5">为进一步做好学科教研工作，促进全市素质教</tspan><tspan x="1517.5" dy="16.2">育的深入发展和教育教学质量的稳步提高，特</tspan><tspan x="1517.5" dy="16.2">制定本计划。</tspan></text></g>
<g id="b4-1"><rect x="1511" y="1945" width="86" height="28" rx="5"/><text class="s" x="1517.5" y="1963.4">一、指导思想</text></g>
<g id="b4-1a"><rect x="1620" y="1898" width="259" height="123" rx="5"/><text class="s" x="1626.5" y="1915.3"><tspan x="1626.5">以国家的教育方针政策为指导，以《课程方案</tspan><tspan x="1626.5" dy="16.2">》及各科课程标准为依据，以省素质教育会议</tspan><tspan x="1626.5" dy="16.2">精神为指导，以"大力推进教育教学创新，全</tspan><tspan x="1626.5" dy="16.2">面提高教育教学质量，为建设殷实和谐、公平</tspan><tspan x="1626.5" dy="16.2">质优教育名市提供智力支持"为实践载体，自</tspan><tspan x="1626.5" dy="16.2">觉践行科学发展观，用科学发展观引领学科教</tspan><tspan x="1626.5" dy="16.2">研工作，全面提升学科教育教学质量。</tspan></text></g>
<g id="b4-2"><rect x="1511" y="2080" width="86" height="27" rx="5"/><text class="s" x="1517.5" y="2097.9">二、基本思路</text></g>
<g id="b4-2a"><rect x="1620" y="2048" width="259" height="91" rx="5"/><text class="s" x="1626.5" y="2065.5"><tspan x="1626.5">以深化课堂教学改革与创新为重点，以打造高</tspan><tspan x="1626.5" dy="16.2">效课堂为、实现学科实施素质教育的发展与突</tspan><tspan x="1626.5" dy="16.2">破;以强化网上教研为契机，实现教研方式的</tspan><tspan x="1626.5" dy="16.2">优化和互补;以提高教研水平与实效为目标，</tspan><tspan x="1626.5" dy="16.2">实现自身与师生的共成长。</tspan></text></g>
<g id="b4-3"><rect x="1511" y="2805" width="147" height="28" rx="5"/><text class="s" x="1517.5" y="2823.4">三、重点任务和主要措施</text></g>
<g id="b4-3-1"><rect x="1682" y="2525" width="259" height="44" rx="5"/><text class="s" x="1688.5" y="2543.3"><tspan x="1688.5">(一)全面落实山东省普通高中历史教学实施意</tspan><tspan x="1688.5" dy="16.2">见，规范学科教学行为。</tspan></text></g>
<g id="b4-3-1-1"><rect x="1965" y="2166" width="258" height="60" rx="5"/><text class="s" x="1971.5" y="2184.2"><tspan x="1971.5">1、科学安排历史学科课程，扎实推进课程改</tspan><tspan x="1971.5" dy="16.2">革。本学期的教学内容是历史必修II与校本课</tspan><tspan x="1971.5" dy="16.2">程。</tspan></text></g>
<g id="b4-3-1-2"><rect x="1965" y="2510" width="258" height="43" rx="5"/><text class="s" x="1971.5" y="2527.8"><tspan x="1971.5">2、研究模块专题教学的特点，更新评价理念</tspan><tspan x="1971.5" dy="16.2">。</tspan></text></g>
<g id="b4-3-1-2a"><rect x="2248" y="2252" width="258" height="139" rx="5"/><text class="s" x="2254.5" y="2269.2"><tspan x="2254.5">(1)依据课程标准，全面落实课程目标。教师</tspan><tspan x="2254.5" dy="16.2">要认真学习、深入研究课程标准，准确把握课</tspan><tspan x="2254.5" dy="16.2">程的性质、基本理念和设计思路，明确课程对</tspan><tspan x="2254.5" dy="16.2">教学实施提出的要求，进一步转变教学观念。</tspan><tspan x="2254.5" dy="16.2">教学时要着眼于模块或专题的整体设计，有机</tspan><tspan x="2254.5" dy="16.2">整合知识与技能、过程与方法、情感态度和价</tspan><tspan x="2254.5" dy="16.2">值观三维目标，将正确的世界观、人生观融入</tspan><tspan x="2254.5" dy="16.2">教学实践。</tspan></text></g>
<g id="b4-3-1-2b"><rect x="2248" y="2419" width="258" height="139" rx="5"/><text class="s" x="2254.5" y="2436.2"><tspan x="2254.5">(2)尊重教学规律，开展教育教学创新。既要</tspan><tspan x="2254.5" dy="16.2">继承传统教学中有利于学生身心发展、符合教</tspan><tspan x="2254.5" dy="16.2">育教学规律的教学方式，坚持教学常规，也要</tspan><tspan x="2254.5" dy="16.2">根据新课程精神，不断创新教学方法，转变学</tspan><tspan x="2254.5" dy="16.2">生学习方式。教师要特别注意做好备课、上课</tspan><tspan x="2254.5" dy="16.2">、课后反思三个环节的工作，借鉴、融合各派</tspan><tspan x="2254.5" dy="16.2">教学理论，与同伴、专家开展合作研究，不断</tspan><tspan x="2254.5" dy="16.2">探索提高教学效率的途径。</tspan></text></g>
<g id="b4-3-1-2c"><rect x="2248" y="2585" width="258" height="108" rx="5"/><text class="s" x="2254.5" y="2602.9"><tspan x="2254.5">(3)转变教学方式，打造高效课堂。要认真研</tspan><tspan x="2254.5" dy="16.2">究自主、合作、探究学习的组织实施策略和方</tspan><tspan x="2254.5" dy="16.2">法，注重培养学生的独立思考能力、创新能力</tspan><tspan x="2254.5" dy="16.2">和实践能力。了解各种教学媒体和手段的特点</tspan><tspan x="2254.5" dy="16.2">，根据具体的教学任务，选择合适的教学组织</tspan><tspan x="2254.5" dy="16.2">形式和教学媒体，提高教学质量。</tspan></text></g>
<g id="b4-3-1-2d"><rect x="2248" y="2719" width="258" height="44" rx="5"/><text class="s" x="2254.5" y="2737.3"><tspan x="2254.5">(4)树立正确的评价观，采用多元化的评价其</tspan><tspan x="2254.5" dy="16.2">方式。</tspan></text></g>
<g id="b4-3-1-3"><rect x="1965" y="2790" width="258" height="60" rx="5"/><text class="s" x="1971.5" y="2808.2"><tspan x="1971.5">3、加强校本课程的研究与指导。培植校本课</tspan><tspan x="1971.5" dy="16.2">程开发与实施的典型学校，适时举办校本课程</tspan><tspan x="1971.5" dy="16.2">开发与实施现场观摩会。</tspan></text></g>
<g id="b4-3-1-4"><rect x="1965" y="2876" width="258" height="44" rx="5"/><text class="s" x="1971.5" y="2894.3"><tspan x="1971.5">4、加强学生选课指导研究，尝试研究性学习</tspan><tspan x="1971.5" dy="16.2">与学科教学结合。</tspan></text></g>
<g id="b4-3-2"><rect x="1682" y="3070" width="259" height="43" rx="5"/><text class="s" x="1688.5" y="3087.8"><tspan x="1688.5">(二)强化理论研究，深化课堂教学创新与改革</tspan><tspan x="1688.5" dy="16.2">。</tspan></text></g>
<g id="b4-3-2-1"><rect x="1965" y="2970" width="192" height="29" rx="5"/><text class="s" x="1971.5" y="2988.9">1、进一步优化课堂教学各个环节</text></g>
<g id="b4-3-2-1a"><rect x="2180" y="2947" width="260" height="76" rx="5"/><text class="s" x="2186.5" y="2965.1"><tspan x="2186.5">针对课时少，教学任务重的形势，我们应全面</tspan><tspan x="2186.5" dy="16.2">优化备课、说课、上课、听课、评课、改课、</tspan><tspan x="2186.5" dy="16.2">反思等各个教学环节。充分准备课，高效落实</tspan><tspan x="2186.5" dy="16.2">课，开诚布公听评课，认真反思提升课。</tspan></text></g>
<g id="b4-3-2-2"><rect x="1965" y="3183" width="204" height="28" rx="5"/><text class="s" x="1971.5" y="3201.4">2、进一步完善三种课型的基本环节</text></g>
<g id="b4-3-2-2a"><rect x="2193" y="3050" width="259" height="59" rx="5"/><text class="s" x="2199.5" y="3067.7"><tspan x="2199.5">新授课的基本环节：创设情境、课标导航→自</tspan><tspan x="2199.5" dy="16.2">主学习、合作探究→成果展示、汇报交流→归</tspan><tspan x="2199.5" dy="16.2">纳总结、提升拓展→反馈训练、巩固落实</tspan></text></g>
<g id="b4-3-2-2b"><rect x="2193" y="3137" width="259" height="58" rx="5"/><text class="s" x="2199.5" y="3154.2"><tspan x="2199.5">复习课基本环节：问题驱动、自主学习→重点</tspan><tspan x="2199.5" dy="16.2">难点、合作探究→知识梳理、点拨归纳→典例</tspan><tspan x="2199.5" dy="16.2">评析、深化提高→变式巩固、拓展完善</tspan></text></g>
<g id="b4-3-2-2c"><rect x="2193" y="3224" width="259" height="43" rx="5"/><text class="s" x="2199.5" y="3241.8"><tspan x="2199.5">讲评课基本环节：考情展示→个性纠错→典例</tspan><tspan x="2199.5" dy="16.2">分析→变式巩固→补偿训练。</tspan></text></g>
<g id="b4-3-2-2d"><rect x="2193" y="3294" width="259" height="43" rx="5"/><text class="s" x="2199.5" y="3311.8"><tspan x="2199.5">自查自纠→合作交流→问题汇报→教师点拨→</tspan><tspan x="2199.5" dy="16.2">典题巩固→补偿训练</tspan></text></g>
</g>

<!-- RELATED -->
<g id="related"><rect x="1271" y="3596" width="263" height="57" rx="6" fill="#1f86c9"/><text class="m" x="1279" y="3619.4" fill="#ffffff"><tspan x="1279">高一历史第一学期教学计划相关文</tspan><tspan x="1279" dy="21.4">章：</tspan></text></g>
<g class="lb">
<g id="rel-1"><rect x="1558" y="3364" width="205" height="28" rx="5"/><text class="s" x="1564" y="3382.4">★ 新学期高一历史课程教学计划5篇</text></g>
<g id="rel-2"><rect x="1558" y="3419" width="169" height="28" rx="5"/><text class="s" x="1564" y="3437.4">★ 历史高一必修教学计划5篇</text></g>
<g id="rel-3"><rect x="1558" y="3473.5" width="198" height="28" rx="5"/><text class="s" x="1564" y="3491.9">★ 高一历史考试教学计划5篇2021</text></g>
<g id="rel-4"><rect x="1558" y="3528.5" width="181" height="28" rx="5"/><text class="s" x="1564" y="3546.9">★ 高一历史教研组教学计划5篇</text></g>
<g id="rel-5"><rect x="1558" y="3583" width="211" height="28" rx="5"/><text class="s" x="1564" y="3601.4">★ 关于新学期高一历史个人教学计划</text></g>
<g id="rel-6"><rect x="1558" y="3638" width="193" height="28" rx="5"/><text class="s" x="1564" y="3656.4">★ 关于高中历史学科教学计划5篇</text></g>
<g id="rel-7"><rect x="1558" y="3693" width="193" height="28" rx="5"/><text class="s" x="1564" y="3711.4">★ 高一历史个人教学计划岳麓5篇</text></g>
<g id="rel-8"><rect x="1558" y="3748" width="227" height="28" rx="5"/><text class="s" x="1564" y="3766.4">★ 关于高一历史个人教学计划总结2021</text></g>
<g id="rel-9"><rect x="1558" y="3803" width="202" height="28" rx="5"/><text class="s" x="1564" y="3821.4">★ 2021高一历史个人教学计划总结</text></g>
<g id="rel-10"><rect x="1558" y="3857" width="154" height="28" rx="5"/><text class="s" x="1564" y="3875.4">★ 高中历史教学计划2021</text></g>
</g>
</svg>
